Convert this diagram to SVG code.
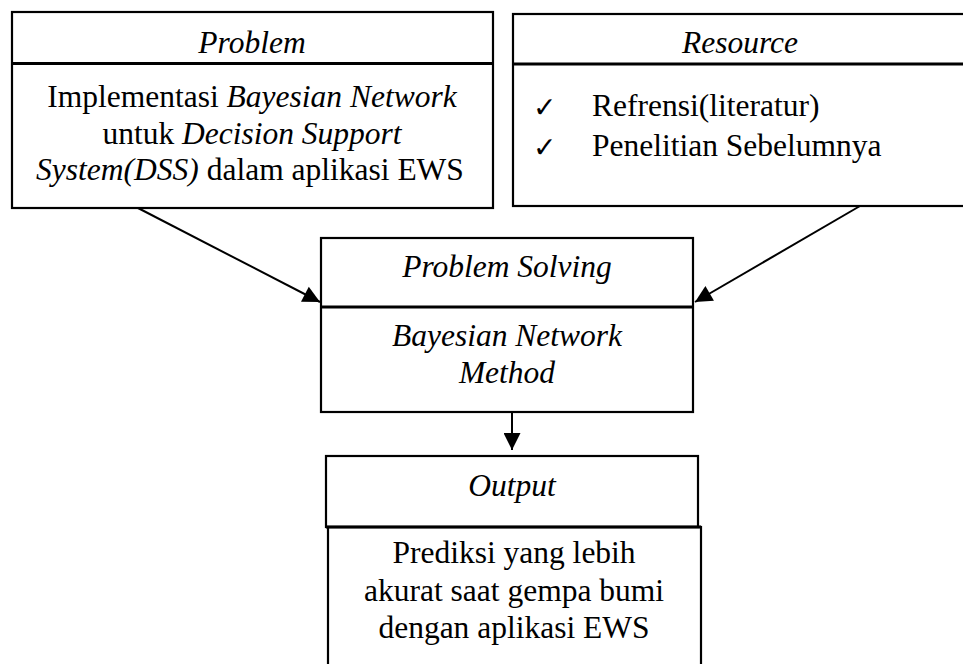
<svg xmlns="http://www.w3.org/2000/svg" width="963" height="664" viewBox="0 0 963 664">
<defs>
<style>
.box{fill:none;stroke:#000;stroke-width:2.2}
.div{stroke:#000;stroke-width:3}
.t{font-family:"Liberation Serif","Times New Roman",serif;font-size:31.5px;fill:#000;text-anchor:middle}
.tl{font-family:"Liberation Serif","Times New Roman",serif;font-size:31.5px;fill:#000}
.i{font-style:italic}
.ck{font-family:"DejaVu Sans",sans-serif;font-size:28px;fill:#000}
.ln{stroke:#000;stroke-width:2;fill:none}
</style>
<marker id="ah" viewBox="0 0 10 10" refX="10" refY="5" markerWidth="10" markerHeight="8.5" markerUnits="strokeWidth" orient="auto">
<path d="M0,0 L10,5 L0,10 Z" fill="#000"/>
</marker>
</defs>
<rect width="963" height="664" fill="#fff"/>
<g id="problem">
<rect class="box" x="12" y="12" width="481" height="196"/>
<line class="div" x1="12" y1="63.5" x2="493" y2="63.5"/>
<text class="t i" x="252" y="53">Problem</text>
<text class="t" x="252" y="107">Implementasi <tspan class="i">Bayesian Network</tspan></text>
<text class="t" x="252" y="144">untuk <tspan class="i">Decision Support</tspan></text>
<text class="t" x="250" y="180"><tspan class="i">System(DSS)</tspan> dalam aplikasi EWS</text>
</g>
<g id="resource">
<rect class="box" x="513" y="14" width="500" height="192"/>
<line class="div" x1="513" y1="64" x2="963" y2="64"/>
<text class="t i" x="740" y="53">Resource</text>
<text class="ck" x="533" y="117">✓</text>
<text class="tl" x="592" y="116">Refrensi(literatur)</text>
<text class="ck" x="533" y="157">✓</text>
<text class="tl" x="592" y="156">Penelitian Sebelumnya</text>
</g>
<g id="problem-solving">
<rect class="box" x="321" y="238" width="372" height="174"/>
<line class="div" x1="321" y1="307" x2="693" y2="307"/>
<text class="t i" x="507" y="277">Problem Solving</text>
<text class="t i" x="507" y="346">Bayesian Network</text>
<text class="t i" x="507" y="383">Method</text>
</g>
<g id="output">
<rect class="box" x="326" y="456" width="372" height="71"/>
<rect class="box" x="328" y="527" width="373" height="160"/>
<line class="div" x1="326" y1="527" x2="701" y2="527"/>
<text class="t i" x="512" y="496">Output</text>
<text class="t" x="514" y="563">Prediksi yang lebih</text>
<text class="t" x="514" y="601">akurat saat gempa bumi</text>
<text class="t" x="514" y="638">dengan aplikasi EWS</text>
</g>
<g id="connectors">
<line class="ln" x1="138" y1="208" x2="320" y2="302" marker-end="url(#ah)"/>
<line class="ln" x1="860" y1="206" x2="695" y2="302" marker-end="url(#ah)"/>
<line class="ln" x1="512" y1="413" x2="512" y2="450" marker-end="url(#ah)"/>
</g>
</svg>
